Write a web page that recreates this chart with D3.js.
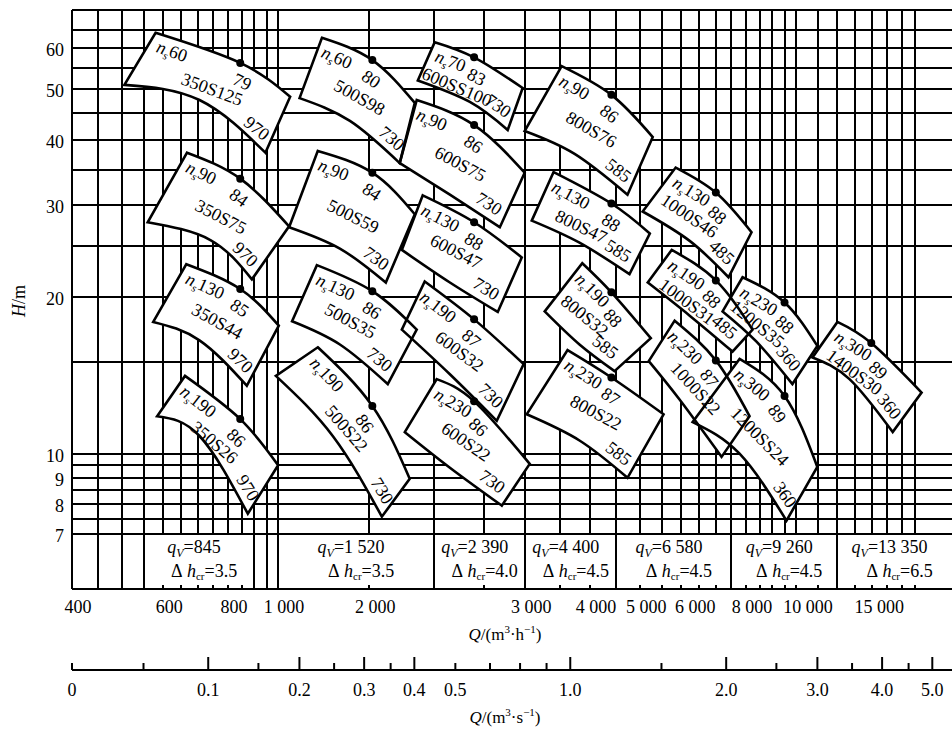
<!DOCTYPE html>
<html>
<head>
<meta charset="utf-8">
<script src="https://cdn.jsdelivr.net/npm/d3@7"></script>
<style>
  html, body { margin: 0; padding: 0; background: #fff; }
  svg { display: block; font-family: "Liberation Serif", "Times New Roman", serif; }
</style>
</head>
<body>
<svg id="chart" width="952" height="733"></svg>
<script>
// ---- Pump series (single-stage double-suction S pumps) ----
const models      = ["350S125","350S75","350S44","350S26",
                     "500S98","500S59","500S35","500S22",
                     "600SS100","600S75","600S47","600S32","600S22",
                     "800S76","800S47","800S32","800S22",
                     "1000S46","1000S31","1000S22",
                     "1200S35","1200SS24","1400S30"];
const specSpeed   = [60, 90, 130, 190,  60, 90, 130, 190,  70, 90, 130, 190, 230,
                     90, 130, 190, 230,  130, 190, 230,  230, 300,  300];
const efficiency  = [79, 84, 85, 86,  80, 84, 86, 86,  83, 86, 88, 87, 86,
                     86, 88, 88, 87,  88, 88, 87,  88, 89,  89];
const rotSpeed    = [970, 970, 970, 970,  730, 730, 730, 730,  730, 730, 730, 730, 730,
                     585, 585, 585, 585,  485, 485, null,  360, 360,  360];

// design point (dot on the full-diameter curve), Q in m3/h, H in m
const designQ = [845, 845, 845, 845,  1520, 1520, 1520, 1520,  2390, 2390, 2390, 2390, 2390,
                 4400, 4400, 4400, 4400,  7000, 7000, 7000,  9500, 9500,  13970];
const designH = [56.2, 33.7, 20.7, 11.65,  56.9, 34.6, 20.5, 12.35,  57.6, 42.7, 27.8, 18.1, 12.6,
                 48.8, 30.2, 20.4, 14.0,  31.7, 21.5, 15.1,  19.5, 12.9,  16.3];

// working-range corners [Q, H]
const topLeft = [[580,64.2],[667,37.8],[665,23.1],[661,14.1],
                 [1215,62.8],[1193,38.1],[1188,23.0],[1193,16.0],
                 [2006,61.6],[1852,47.7],[1902,31.3],[1919,21.4],[2024,13.9],
                 [3527,55.4],[3403,34.7],[3866,23.2],[3621,15.8],
                 [5855,35.4],[5753,24.6],[5829,18.0],
                 [7883,21.8],[7779,15.2],[12017,17.9]];
const topRight = [[1055,48.4],[1050,27.3],[1003,17.6],[1000,9.5],
                  [1836,47.1],[1836,28.8],[1852,17.3],[1795,8.95],
                  [2966,50.3],[2992,34.6],[2954,23.8],[2979,14.85],[3060,9.56],
                  [5288,40.5],[5219,26.45],[5242,16.66],[5548,11.9],
                  [8204,26.6],[8241,17.3],[8131,11.8],
                  [10990,16.1],[10990,9.43],[17470,13.1]];
const bottomRight = [[945,37.8],[890,21.6],[870,13.5],[874,7.67],
                     [1717,36.1],[1614,21.3],[1628,13.6],[1586,7.57],
                     [2775,41.8],[2680,27.2],[2655,18.7],[2643,11.56],[2703,7.95],
                     [4727,31.4],[4769,22.1],[4462,14.4],[4727,8.99],
                     [7406,21.8],[7538,15.7],[7181,9.86],
                     [9840,13.6],[9582,7.44],[15366,11.0]];
const bottomMid = [[705,47.7],[740,25.7],[705,16.5],[706,10.8],
                   [1376,43.5],[1316,24.75],[1316,16.2],[1276,10.8],
                   [2345,47.3],[2146,31.4],[2146,21.3],[2146,14.2],[2146,9.4],
                   [3736,37.6],[3818,25.4],[3818,16.2],[3818,10.6],
                   [6231,25.6],[6231,18.4],[5957,12.7],
                   [8387,16.4],[7779,10.0],[12680,13.9]];
const bottomLeft = [[505,51.0],[560,27.8],[574,17.9],[584,11.8],
                    [1100,48.1],[1050,27.2],[1064,17.95],[990,14.1],
                    [1861,52.0],[1717,36.1],[1733,24.6],[1733,17.3],[1756,11.0],
                    [2992,41.6],[3088,28.0],[3271,18.75],[3019,11.9],
                    [5056,29.15],[5172,21.3],[5195,15.05],
                    [7213,18.75],[6314,11.5],[10758,15.3]];

// series design flow and required NPSH, with the flow band each note sits in
const qvValues   = [845, 1520, 2390, 4400, 6580, 9260, 13350];
const npshValues = [3.5, 3.5, 4.0, 4.5, 4.5, 4.5, 6.5];
const qvBands    = [[550,900],[1000,2000],[2000,3000],[3000,4500],[4500,7500],[7500,12000],[12000,20000]];

// grid and axis ticks
const flowGrid = [450,500,550,600,650,700,750,800,850,900,950,1000,1500,2000,2500,3000,3500,4000,
                  4500,5000,5500,6000,6500,7000,7500,8000,8500,9000,9500,10000,11000,12000,13000,
                  14000,15000,16000,17000];
const bandDividers = [450,500,550,900,950,1000,2000,3000,4500,7500,12000];
const headGrid = [7,7.5,8,8.5,9,9.5,10,15,20,25,30,35,40,45,50,55,60,65];
const headTicks = [7,8,9,10,20,30,40,50,60];
const flowLabelAt = [400,600,800,1000,1500,3000,4000,5000,6000,8000,10000,15000];
const flowLabels  = ["400","600","800","1 000","2 000","3 000","4 000","5 000","6 000","8 000","10 000","15 000"];
const secMajor = [0.2,0.3,0.4,0.5,1,2,3,4,5];
const secMinor = [0.15,0.25,0.35,0.45,0.6,0.7,0.8,0.9,1.5,2.5,3.5,4.5];
const secLabelAt = [0.2,0.3,0.4,0.5,0.6,1,2,3,4,5];
const secLabels  = ["0.1","0.2","0.3","0.4","0.5","1.0","2.0","3.0","4.0","5.0"];

// ---- scales ----
const W = 952;
const x = d3.scaleLog().domain([400, 20000]).range([72, 952]);
const y = d3.scaleLog().domain([5.5, 71]).range([589, 10]);
const xs = d3.scaleLog().domain([400 / 3600, 20000 / 3600]).range([76, 956]);

const svg = d3.select("#chart");
const ink = "#000";
const FS = 18;

// ---- grid ----
const grid = svg.append("g").attr("stroke", ink).attr("stroke-width", 2)
  .attr("shape-rendering", "crispEdges");
grid.selectAll("line.h").data(headGrid).join("line")
  .attr("x1", x(400)).attr("x2", W)
  .attr("y1", d => y(d)).attr("y2", d => y(d));
grid.selectAll("line.v").data(flowGrid).join("line")
  .attr("x1", d => x(d)).attr("x2", d => x(d))
  .attr("y1", y(71))
  .attr("y2", d => bandDividers.includes(d) ? y(5.5) : y(7));
grid.selectAll("line.t").data(flowGrid.filter(d => !bandDividers.includes(d))).join("line")
  .attr("x1", d => x(d)).attr("x2", d => x(d))
  .attr("y1", y(5.5)).attr("y2", y(5.5) - 4);
// frame
grid.append("line").attr("x1", x(400)).attr("x2", x(400)).attr("y1", y(71)).attr("y2", y(5.5));
grid.append("line").attr("x1", x(400)).attr("x2", W).attr("y1", y(71)).attr("y2", y(71));
grid.append("line").attr("x1", x(400)).attr("x2", W).attr("y1", y(5.5)).attr("y2", y(5.5));

// ---- axis labels ----
const labelNudge = { 6000: 14, 10000: 12, 15000: -8 };
svg.append("g").selectAll("text").data(flowLabelAt).join("text")
  .attr("x", (d) => x(d) + (labelNudge[d] !== undefined ? labelNudge[d] : 6))
  .attr("y", 613)
  .attr("text-anchor", "middle").attr("font-size", FS)
  .text((d, i) => flowLabels[i]);

svg.append("g").selectAll("text").data(headTicks).join("text")
  .attr("x", 64).attr("y", d => y(d) + 2)
  .attr("text-anchor", "end").attr("dominant-baseline", "central")
  .attr("font-size", FS)
  .text(d => d);

const hTitle = svg.append("text")
  .attr("transform", "translate(25,301) rotate(-90)")
  .attr("text-anchor", "middle").attr("font-size", FS);
hTitle.append("tspan").attr("font-style", "italic").text("H");
hTitle.append("tspan").text("/m");

function unitTitle(cx, cy, unit) {
  const t = svg.append("text").attr("x", cx).attr("y", cy)
    .attr("text-anchor", "middle").attr("font-size", 17);
  t.append("tspan").attr("font-style", "italic").text("Q");
  t.append("tspan").text("/(m");
  t.append("tspan").attr("font-size", 11).attr("dy", -7).text("3");
  t.append("tspan").attr("dy", 7).text("·" + unit);
  t.append("tspan").attr("font-size", 11).attr("dy", -7).text("−1");
  t.append("tspan").attr("dy", 7).text(")");
}
unitTitle(505, 640, "h");
unitTitle(505, 723, "s");

// secondary flow axis (m3/s)
const sec = svg.append("g");
sec.append("line").attr("x1", x(400)).attr("x2", W).attr("y1", 670).attr("y2", 670)
  .attr("stroke", ink).attr("stroke-width", 2);
sec.selectAll("line.maj").data(secMajor).join("line")
  .attr("x1", d => xs(d)).attr("x2", d => xs(d)).attr("y1", 670).attr("y2", 657)
  .attr("stroke", ink).attr("stroke-width", 2);
sec.selectAll("line.min").data(secMinor).join("line")
  .attr("x1", d => xs(d)).attr("x2", d => xs(d)).attr("y1", 670).attr("y2", 663)
  .attr("stroke", ink).attr("stroke-width", 2);
sec.append("line").attr("x1", x(400)).attr("x2", x(400)).attr("y1", 670).attr("y2", 663)
  .attr("stroke", ink).attr("stroke-width", 2);
sec.append("text").attr("x", x(400)).attr("y", 696).attr("text-anchor", "middle")
  .attr("font-size", FS).text("0");
sec.selectAll("text.l").data(secLabelAt).join("text")
  .attr("x", d => xs(d)).attr("y", 696).attr("text-anchor", "middle")
  .attr("font-size", FS).text((d, i) => secLabels[i]);

// ---- q_V / NPSH notes in the bottom band ----
const thousands = v => v >= 1000 ? d3.format(",")(v).replace(/,/g, " ") : String(v);
const notes = svg.append("g").attr("font-size", FS);
qvBands.forEach((b, i) => {
  const cx = x(Math.sqrt(b[0] * b[1]));
  const t1 = notes.append("text").attr("x", cx - 5).attr("y", 553).attr("text-anchor", "middle");
  t1.append("tspan").attr("font-style", "italic").text("q");
  t1.append("tspan").attr("font-style", "italic").attr("font-size", 12).attr("dy", 4).text("V");
  t1.append("tspan").attr("dy", -4).text("=" + thousands(qvValues[i]));
  const t2 = notes.append("text").attr("x", cx + 5).attr("y", 577).attr("text-anchor", "middle");
  t2.append("tspan").text("Δ\u00a0");
  t2.append("tspan").attr("font-style", "italic").text("h");
  t2.append("tspan").attr("font-size", 11).attr("dy", 3).text("cr");
  t2.append("tspan").attr("dy", -3).text("=" + d3.format(".1f")(npshValues[i]));
});

// ---- pump working-range tiles ----
const px = p => [x(p[0]), y(p[1])];
const smooth = d3.line().curve(d3.curveNatural);
const tiles = models.map((m, i) => {
  const tl = px(topLeft[i]), dt = px([designQ[i], designH[i]]), tr = px(topRight[i]);
  const br = px(bottomRight[i]), bm = px(bottomMid[i]), bl = px(bottomLeft[i]);
  const path = smooth([tl, dt, tr]) + "L" + smooth([br, bm, bl]).slice(1) + "Z";
  return { i, tl, dt, tr, br, bm, bl, path };
});

const tileG = svg.append("g");
tileG.selectAll("path.fill").data(tiles).join("path")
  .attr("d", d => d.path).attr("fill", "#fff").attr("stroke", "none");
tileG.selectAll("path.edge").data(tiles).join("path")
  .attr("d", d => d.path).attr("fill", "none")
  .attr("stroke", ink).attr("stroke-width", 2.6).attr("stroke-linejoin", "miter");
tileG.selectAll("circle").data(tiles).join("circle")
  .attr("cx", d => d.dt[0]).attr("cy", d => d.dt[1]).attr("r", 4).attr("fill", ink);

const unitVec = (a, b) => { const dx = b[0] - a[0], dy = b[1] - a[1], l = Math.hypot(dx, dy); return [dx / l, dy / l]; };
const ang = v => Math.atan2(v[1], v[0]) * 180 / Math.PI;
const dot = (a, b) => a[0] * b[0] + a[1] * b[1];
const place = (sel, p, deg) => sel.attr("transform", `translate(${p[0]},${p[1]}) rotate(${deg})`);

const labelG = svg.append("g").attr("font-size", FS);
tiles.forEach(t => {
  const i = t.i;

  // specific speed, following the head curve from its left end
  const u = unitVec(t.tl, t.dt), n = [-u[1], u[0]];
  const nsAt = [t.tl[0] + u[0] * 6 + n[0] * 18, t.tl[1] + u[1] * 6 + n[1] * 18];
  const ns = place(labelG.append("text"), nsAt, ang(u));
  ns.append("tspan").attr("font-style", "italic").text("n");
  ns.append("tspan").attr("font-style", "italic").attr("font-size", 11).attr("dy", 4).text("s");
  ns.append("tspan").attr("dy", -4).text(specSpeed[i]);
  const nsLen = ns.node().getComputedTextLength();
  const nsEnd = [nsAt[0] + u[0] * nsLen, nsAt[1] + u[1] * nsLen];

  // efficiency just under the design point, kept clear of the n_s label
  const u2 = unitVec(t.tl, t.tr), n2 = [-u2[1], u2[0]];
  let eff = [t.dt[0] + u2[0] * 10 + n2[0] * 16, t.dt[1] + u2[1] * 10 + n2[1] * 16];
  const effText = labelG.append("text").attr("text-anchor", "middle").attr("dy", "0.35em").text(efficiency[i]);
  const effHalf = effText.node().getComputedTextLength() / 2;
  const gap = dot([eff[0] - nsEnd[0], eff[1] - nsEnd[1]], u2);
  if (gap < effHalf + 5) {
    const s = effHalf + 5 - gap;
    eff = [eff[0] + u2[0] * s, eff[1] + u2[1] * s];
  }
  place(effText, eff, ang(u2));

  // rotational speed near the lower right corner
  let spd = null, spdHalf = 0;
  if (rotSpeed[i] !== null) {
    const v = unitVec(t.br, t.bm), inward = [-v[1], v[0]];
    spd = [t.br[0] + v[0] * 22 + inward[0] * 14, t.br[1] + v[1] * 22 + inward[1] * 14];
    const st = place(labelG.append("text"), spd, ang(unitVec(t.bm, t.br)))
      .attr("text-anchor", "middle").attr("dy", "0.35em").text(rotSpeed[i]);
    spdHalf = st.node().getComputedTextLength() / 2;
  }

  // model designation near the middle, below the n_s line and clear of the speed
  const pts = [t.tl, t.dt, t.tr, t.br, t.bm, t.bl];
  let m = [d3.mean(pts, p => p[0]), d3.mean(pts, p => p[1])];
  const depth = dot([m[0] - t.tl[0], m[1] - t.tl[1]], n);
  if (depth < 34) m = [m[0] + n[0] * (34 - depth), m[1] + n[1] * (34 - depth)];
  const rot = (ang(unitVec(t.tl, t.tr)) + ang(unitVec(t.bl, t.br))) / 2 - 5;
  const dir = [Math.cos(rot * Math.PI / 180), Math.sin(rot * Math.PI / 180)];
  const mt = labelG.append("text").attr("text-anchor", "middle").attr("dy", "0.35em").text(models[i]);
  const mHalf = mt.node().getComputedTextLength() / 2;
  if (spd) {
    const d = [spd[0] - m[0], spd[1] - m[1]];
    const along = dot(d, dir), across = dot(d, [-dir[1], dir[0]]);
    const need = mHalf + spdHalf + 3;
    if (Math.abs(across) < 22 && along < need) {
      const shift = Math.min(need - along, 12);
      m = [m[0] - dir[0] * shift, m[1] - dir[1] * shift];
    }
  }
  place(mt, m, rot);
});
</script>
</body>
</html>
